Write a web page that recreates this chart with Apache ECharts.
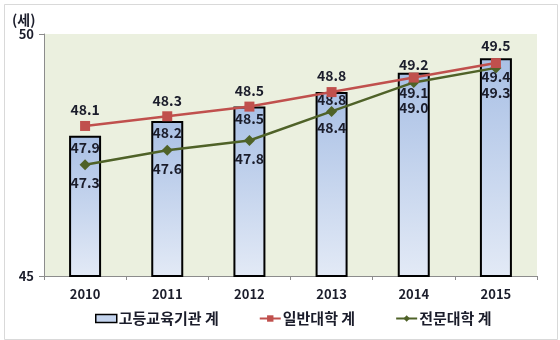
<!DOCTYPE html>
<html>
<head>
<meta charset="utf-8">
<script src="https://cdn.jsdelivr.net/npm/echarts@6/dist/echarts.min.js"></script>
<style>
  html, body { margin: 0; padding: 0; background: #fff; }
  #chart { width: 560px; height: 340px; }
</style>
</head>
<body>
<div id="chart"></div>
<script>
// Average age by year (unit: 세)
var years = ['2010', '2011', '2012', '2013', '2014', '2015'];
var totalHigherEd = [47.9, 48.2, 48.5, 48.8, 49.2, 49.5];   // 고등교육기관 계
var universities = [48.1, 48.3, 48.5, 48.8, 49.1, 49.4];    // 일반대학 계
var colleges = [47.3, 47.6, 47.8, 48.4, 49.0, 49.3];        // 전문대학 계
var seriesNames = ['고등교육기관 계', '일반대학 계', '전문대학 계'];
var yTicks = [45, 50];
var unitLabel = '(세)';

var FONT = '"Noto Sans CJK KR", "Noto Sans", sans-serif';
var TXT = '#1b1d2b';

var labelBase = {
  show: true, fontFamily: FONT, fontWeight: 'bold', fontSize: 14, color: TXT,
  formatter: function (p) { return Number(p.value).toFixed(1); }
};

// per-point label placement so labels avoid each other where marks crowd
var barLabelPos = [['insideTop', 5], ['insideTop', 5], ['insideTop', 5], ['insideTop', 1], ['top', 1], ['top', 6]];
var univLabelPos = [['top', 4], ['top', 4], ['top', 4], ['top', 4], ['bottom', 3], ['bottom', 2]];
var collegeLabelPos = [['bottom', 6], ['bottom', 6], ['bottom', 6], ['bottom', 4], ['bottom', 13], ['bottom', 12]];

function withLabels(values, pos) {
  return values.map(function (v, i) {
    return { value: v, label: { position: pos[i][0], distance: pos[i][1] } };
  });
}

var barFill = new echarts.graphic.LinearGradient(0, 0, 0, 1, [
  { offset: 0, color: '#a9c0e5' },
  { offset: 1, color: '#e3eaf6' }
]);

var chart = echarts.init(document.getElementById('chart'), null, { renderer: 'canvas' });
chart.setOption({
  animation: false,
  backgroundColor: '#ffffff',
  graphic: [
    { type: 'rect', left: 2, top: 2, shape: { width: 553, height: 335 },
      style: { fill: 'none', stroke: '#d9d9d9', lineWidth: 1 }, z: -1 },
    { type: 'text', left: 12, top: 13,
      style: { text: unitLabel, font: 'bold 14px ' + FONT, fill: TXT } }
  ],
  grid: {
    left: 44, right: 23, top: 34, bottom: 64,
    show: true, backgroundColor: '#ebf0df', borderWidth: 0
  },
  xAxis: {
    type: 'category',
    data: years,
    boundaryGap: true,
    axisLine: { lineStyle: { color: '#8c8c8c', width: 1 } },
    axisTick: { show: true, length: 4, alignWithLabel: false, lineStyle: { color: '#8c8c8c' } },
    axisLabel: { margin: 12, fontFamily: FONT, fontWeight: 'bold', fontSize: 13, color: TXT }
  },
  yAxis: {
    type: 'value',
    min: yTicks[0], max: yTicks[1], interval: yTicks[1] - yTicks[0],
    axisLine: { show: true, lineStyle: { color: '#8c8c8c', width: 1 } },
    axisTick: { show: true, length: 5, lineStyle: { color: '#8c8c8c' } },
    splitLine: { show: false },
    axisLabel: { margin: 10, fontFamily: FONT, fontWeight: 'bold', fontSize: 13, color: TXT }
  },
  legend: {
    left: 90, top: 306,
    itemWidth: 21, itemHeight: 8, itemGap: 40,
    textStyle: { fontFamily: FONT, fontWeight: 'bold', fontSize: 15, color: TXT, padding: [0, 0, 0, -3] },
    data: [
      { name: seriesNames[0], icon: 'rect', itemStyle: { color: '#c4d4ee', borderColor: '#000', borderWidth: 1.5 } },
      { name: seriesNames[1] },
      { name: seriesNames[2] }
    ]
  },
  series: [
    {
      name: seriesNames[0],
      type: 'bar',
      barWidth: 32,
      data: withLabels(totalHigherEd, barLabelPos),
      itemStyle: { color: barFill, borderColor: '#000', borderWidth: 2 },
      label: labelBase,
      z: 2
    },
    {
      name: seriesNames[2],
      type: 'line',
      data: withLabels(colleges, collegeLabelPos),
      symbol: 'diamond', symbolSize: 11,
      lineStyle: { color: '#4f6228', width: 2.5 },
      itemStyle: { color: '#4f6228' },
      label: labelBase,
      z: 3
    },
    {
      name: seriesNames[1],
      type: 'line',
      data: withLabels(universities, univLabelPos),
      symbol: 'rect', symbolSize: 10,
      lineStyle: { color: '#c0504d', width: 2.5 },
      itemStyle: { color: '#c0504d' },
      label: labelBase,
      z: 4
    }
  ]
});
</script>
</body>
</html>
